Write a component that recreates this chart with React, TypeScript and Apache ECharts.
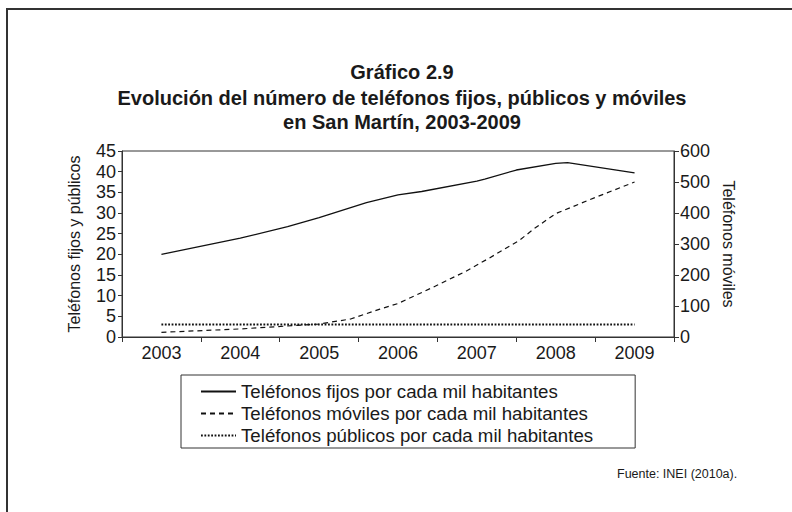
import React, { useEffect, useRef } from "react";
import * as echarts from "echarts";

const years = ["2003", "2004", "2005", "2006", "2007", "2008", "2009"];

const fixedX = [2003, 2004, 2004.6, 2005, 2005.6, 2006, 2006.3, 2007, 2007.1, 2007.5, 2008, 2008.15, 2009];
const fixedY = [20.0, 23.9, 26.7, 28.9, 32.5, 34.4, 35.2, 37.7, 38.2, 40.4, 42.0, 42.2, 39.7];

const mobileX = [2003, 2004, 2005, 2005.4, 2005.77, 2006, 2006.44, 2006.86, 2007.16, 2007.54, 2007.73, 2008, 2008.5, 2009];
const mobileY = [15, 26, 42, 58, 90, 108, 160, 212, 255, 312, 350, 398, 450, 500];

const publicX = [2003, 2004, 2005, 2006, 2007, 2008, 2009];
const publicY = [3, 3, 3, 3, 3, 3, 3];

const leftTicks = { min: 0, max: 45, interval: 5 };
const rightTicks = { min: 0, max: 600, interval: 100 };

const names = [
  "Teléfonos fijos por cada mil habitantes",
  "Teléfonos móviles por cada mil habitantes",
  "Teléfonos públicos por cada mil habitantes",
];

const titleLines = [
  "Gráfico 2.9",
  "Evolución del número de teléfonos fijos, públicos y móviles",
  "en San Martín, 2003-2009",
];
const sourceText = "Fuente: INEI (2010a).";

const FONT = "'Liberation Sans', Arial, sans-serif";
const INK = "#1a1a1a";

const pairs = (xs: number[], ys: number[]) => xs.map((x, i) => [x, ys[i]]);

export default function App() {
  const ref = useRef<HTMLDivElement>(null);
  useEffect(() => {
    if (!ref.current) return;
    const chart = echarts.init(ref.current, undefined, { renderer: "svg" });
    const titleY = [72, 98, 122];
    chart.setOption({
      animation: false,
      backgroundColor: "#fff",
      textStyle: { fontFamily: FONT },
      grid: {
        left: 122,
        right: 118,
        top: 151,
        bottom: 175,
        show: true,
        borderColor: "#333",
        borderWidth: 1,
        backgroundColor: "transparent",
      },
      legend: {
        orient: "vertical",
        left: 181,
        top: 375,
        padding: [7, 42, 3, 19],
        itemWidth: 35,
        itemHeight: 14,
        itemGap: 3,
        borderColor: "#333",
        borderWidth: 1,
        itemStyle: { opacity: 0 },
        textStyle: { fontSize: 18.7, lineHeight: 19, color: INK, fontFamily: FONT },
        data: names,
      },
      xAxis: [
        {
          type: "category",
          data: years,
          boundaryGap: true,
          axisLine: { lineStyle: { color: "#333", width: 1 } },
          axisTick: { show: true, length: 5, lineStyle: { color: "#333" } },
          axisLabel: { fontSize: 18, color: INK, margin: 7, fontFamily: FONT },
          splitLine: { show: false },
        },
        {
          type: "value",
          min: 2002.5,
          max: 2009.5,
          show: false,
        },
      ],
      yAxis: [
        {
          type: "value",
          position: "left",
          ...leftTicks,
          name: "Teléfonos fijos y públicos",
          nameLocation: "middle",
          nameRotate: 90,
          nameGap: 40,
          nameTextStyle: { fontSize: 16, color: INK, fontFamily: FONT },
          axisLine: { show: true, lineStyle: { color: "#333", width: 1 } },
          axisTick: { show: true, length: 4, lineStyle: { color: "#333" } },
          axisLabel: { fontSize: 18, color: INK, margin: 6, fontFamily: FONT },
          splitLine: { show: false },
        },
        {
          type: "value",
          position: "right",
          ...rightTicks,
          name: "Teléfonos móviles",
          nameLocation: "middle",
          nameRotate: -90,
          nameGap: 44,
          nameTextStyle: { fontSize: 16, color: INK, fontFamily: FONT },
          axisLine: { show: true, lineStyle: { color: "#333", width: 1 } },
          axisTick: { show: true, length: 5, lineStyle: { color: "#333" } },
          axisLabel: { fontSize: 18, color: INK, margin: 6, fontFamily: FONT },
          splitLine: { show: false },
        },
      ],
      series: [
        {
          name: names[0],
          type: "line",
          xAxisIndex: 1,
          yAxisIndex: 0,
          data: pairs(fixedX, fixedY),
          symbol: "none",
          lineStyle: { color: "#111", width: 1.3, type: "solid" },
          itemStyle: { color: "#111" },
        },
        {
          name: names[1],
          type: "line",
          xAxisIndex: 1,
          yAxisIndex: 1,
          data: pairs(mobileX, mobileY),
          symbol: "none",
          lineStyle: { color: "#111", width: 1.2, type: [5, 4] },
          itemStyle: { color: "#111" },
        },
        {
          name: names[2],
          type: "line",
          xAxisIndex: 1,
          yAxisIndex: 0,
          data: pairs(publicX, publicY),
          symbol: "none",
          lineStyle: { color: "#111", width: 2, type: [1.8, 1.6], cap: "butt" },
          itemStyle: { color: "#111" },
        },
      ],
      graphic: [
        {
          type: "rect",
          silent: true,
          z: -10,
          shape: { x: 7, y: 9, width: 900, height: 700 },
          style: { fill: "none", stroke: "#333", lineWidth: 2 },
        },
        ...titleLines.map((t, i) => ({
          type: "text",
          x: 402,
          y: titleY[i],
          style: {
            text: t,
            fontSize: 20,
            fontWeight: "bold",
            fontFamily: FONT,
            fill: INK,
            textAlign: "center",
            textVerticalAlign: "middle",
          },
        })),
        {
          type: "text",
          x: 617,
          y: 474,
          style: {
            text: sourceText,
            fontSize: 12.5,
            fontFamily: FONT,
            fill: INK,
            textAlign: "left",
            textVerticalAlign: "middle",
          },
        },
      ],
    });
    return () => chart.dispose();
  }, []);
  return (
    <div
      ref={ref}
      style={{ position: "fixed", left: 0, top: 0, width: 792, height: 512, background: "#fff" }}
    />
  );
}
